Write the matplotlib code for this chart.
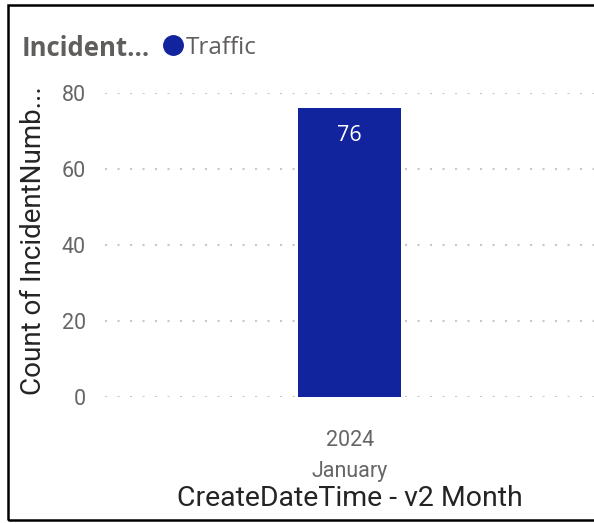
import matplotlib.pyplot as plt
from matplotlib.lines import Line2D

# chart data
categories = ["2024\nJanuary"]
counts = [76]
series_name = "Traffic"
y_ticks = [0, 20, 40, 60, 80]

bar_color = "#12239E"
tick_color = "#666666"

fig = plt.figure(figsize=(5.94, 5.23), dpi=100)
ax = fig.add_axes([0.177, 0.241, 0.823, 0.581])

bars = ax.bar(range(len(categories)), counts, width=0.21, color=bar_color, zorder=3)
for b, v in zip(bars, counts):
    ax.text(b.get_x() + b.get_width() / 2, v - 4.3, str(v), ha="center", va="top",
            color="white", fontsize=15.5, family="Open Sans", zorder=4)

ax.set_xlim(-0.5, 0.5)
ax.set_ylim(0, 80)
ax.set_yticks(y_ticks)
ax.set_xticks(range(len(categories)))
ax.set_xticklabels(categories, linespacing=1.6)
ax.tick_params(axis="both", length=0, colors=tick_color, labelsize=15.5)
ax.tick_params(axis="y", pad=14)
ax.tick_params(axis="x", pad=24)
for lbl in ax.get_xticklabels() + ax.get_yticklabels():
    lbl.set_family("Roboto")

ax.grid(axis="y", color="#c8c8c8", linestyle=(0, (1, 5)), linewidth=1.5, zorder=0)
ax.set_axisbelow(True)
for s in ax.spines.values():
    s.set_visible(False)

ax.set_ylabel("Count of IncidentNumb...", fontsize=20, family="Roboto",
              color="#252423")
ax.yaxis.set_label_coords(-0.118, 0.515)
ax.set_xlabel("CreateDateTime - v2 Month", fontsize=20.5, family="Roboto",
              color="#252423", labelpad=2)

# legend
fig.text(22 / 594, 1 - 48 / 523, "Incident...", fontsize=18.5, fontweight="bold",
         family="Open Sans", color="#605E5C", va="center", ha="left")
handle = Line2D([], [], marker="o", linestyle="", markersize=14,
                markerfacecolor=bar_color, markeredgecolor=bar_color)
fig.legend([handle], [series_name], loc="center left",
           bbox_to_anchor=(147 / 594, 1 - 48 / 523), frameon=False,
           handletextpad=0.0, handlelength=1.1, borderpad=0,
           prop={"family": "Open Sans", "size": 17.5}, labelcolor="#605E5C")

# frame around visual
frame = plt.Rectangle((8 / 594, 3 / 523), 1.2, 1 - 8 / 523, transform=fig.transFigure,
                      fill=False, edgecolor="black", linewidth=1.8)
fig.patches.append(frame)

fig.savefig("out.png", dpi=100)
